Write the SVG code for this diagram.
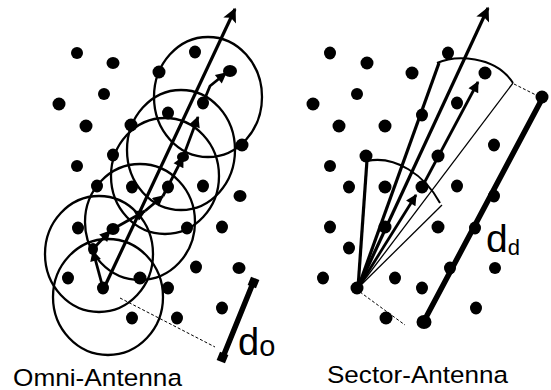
<svg xmlns="http://www.w3.org/2000/svg" width="551" height="390" viewBox="0 0 551 390">
<style>
.dot{fill:#000}
.ring{fill:none;stroke:#000;stroke-width:2.3}
.thick{fill:none;stroke:#000;stroke-width:3.2}
.route{fill:none;stroke:#000;stroke-width:2.8}
.arc{fill:none;stroke:#000;stroke-width:2}
.thin{fill:none;stroke:#000;stroke-width:1.3}
.dash{fill:none;stroke:#000;stroke-width:1;stroke-dasharray:3 2}
.bar{fill:none;stroke:#000;stroke-width:5.5;stroke-linecap:square}
.lbl{font-family:"Liberation Sans",Arial,sans-serif;fill:#000}
</style>
<defs>
<marker id="bigHead" viewBox="0 0 10 10" refX="9" refY="5" markerUnits="userSpaceOnUse" markerWidth="17" markerHeight="14" orient="auto">
<path d="M0,0 L10,5 L0,10 L2,5 z" fill="#000"/>
</marker>
<marker id="smallHead" viewBox="0 0 10 10" refX="9" refY="5" markerUnits="userSpaceOnUse" markerWidth="13" markerHeight="11" orient="auto">
<path d="M0,0 L10,5 L0,10 z" fill="#000"/>
</marker>
</defs>

<g id="omni">
<g id="omni-dots">
<ellipse class="dot" cx="77" cy="53" rx="6" ry="6"/>
<ellipse class="dot" cx="113" cy="63" rx="6.5" ry="6"/>
<ellipse class="dot" cx="104" cy="94" rx="6" ry="6"/>
<ellipse class="dot" cx="59" cy="104" rx="6.5" ry="6.5"/>
<ellipse class="dot" cx="86" cy="126" rx="6.5" ry="6.5"/>
<ellipse class="dot" cx="77" cy="166" rx="6" ry="6"/>
<ellipse class="dot" cx="195" cy="52" rx="6" ry="6.5"/>
<ellipse class="dot" cx="159" cy="72" rx="6.5" ry="6.5"/>
<ellipse class="dot" cx="168" cy="113" rx="6" ry="6.5"/>
<ellipse class="dot" cx="131" cy="125" rx="6.5" ry="6.5"/>
<ellipse class="dot" cx="113" cy="155" rx="6" ry="6.5"/>
<ellipse class="dot" cx="97" cy="186" rx="6" ry="6.5"/>
<ellipse class="dot" cx="132" cy="187" rx="6" ry="6.5"/>
<ellipse class="dot" cx="168" cy="187" rx="6" ry="6.5"/>
<ellipse class="dot" cx="203" cy="186" rx="6" ry="6.5"/>
<ellipse class="dot" cx="240" cy="196" rx="6.5" ry="6"/>
<ellipse class="dot" cx="242" cy="145" rx="6.5" ry="6.5"/>
<ellipse class="dot" cx="203" cy="103" rx="6" ry="6.5"/>
<ellipse class="dot" cx="222" cy="227" rx="6" ry="6.5"/>
<ellipse class="dot" cx="187" cy="228" rx="6" ry="6.5"/>
<ellipse class="dot" cx="78" cy="228" rx="6" ry="6.5"/>
<ellipse class="dot" cx="196" cy="267" rx="6" ry="6.5"/>
<ellipse class="dot" cx="239" cy="268" rx="6.5" ry="6"/>
<ellipse class="dot" cx="68" cy="278" rx="6" ry="6.5"/>
<ellipse class="dot" cx="140" cy="278" rx="6.5" ry="6.5"/>
<ellipse class="dot" cx="168" cy="288" rx="6" ry="6.5"/>
<ellipse class="dot" cx="103" cy="288" rx="6" ry="6.5"/>
<ellipse class="dot" cx="132" cy="318" rx="6" ry="6.5"/>
<ellipse class="dot" cx="177" cy="318" rx="6" ry="6.5"/>
<ellipse class="dot" cx="222" cy="308" rx="6" ry="6.5"/>
<ellipse class="dot" cx="113" cy="229" rx="6.5" ry="6"/>
<ellipse class="dot" cx="93" cy="249" rx="5" ry="6"/>
<ellipse class="dot" cx="183" cy="157" rx="6" ry="5"/>
<ellipse class="dot" cx="230" cy="71" rx="7" ry="6"/>
</g>
<g id="omni-ranges">
<ellipse class="ring" cx="208" cy="97" rx="54" ry="60"/>
<ellipse class="ring" cx="181" cy="150" rx="54" ry="60"/>
<ellipse class="ring" cx="165" cy="176" rx="54" ry="58"/>
<ellipse class="ring" cx="140" cy="222" rx="55" ry="58"/>
<ellipse class="ring" cx="99" cy="254" rx="54" ry="58"/>
<ellipse class="ring" cx="108" cy="297" rx="55" ry="58"/>
</g>
<g id="omni-connectors">
<line class="thick" x1="104" y1="288" x2="235" y2="9" marker-end="url(#bigHead)"/>
<path class="route" d="M103,288 L93,251" marker-end="url(#smallHead)"/>
<path class="route" d="M93,249 L110,231" marker-end="url(#smallHead)"/>
<path class="route" d="M113,229 L145,211" marker-end="url(#smallHead)"/>
<path class="route" d="M145,211 L163,196" marker-end="url(#smallHead)"/>
<path class="route" d="M163,196 L183,157" marker-end="url(#smallHead)"/>
<path class="route" d="M183,157 L198,117" marker-end="url(#smallHead)"/>
<path class="route" d="M203,103 L210,86 L226,73" marker-end="url(#smallHead)"/>
<line class="dash" x1="120" y1="298" x2="215" y2="347"/>
<line class="bar" x1="253" y1="283" x2="223" y2="357"/>
<rect x="249" y="278" width="9" height="9" transform="rotate(22 253.5 282.5)"/>
<rect x="218" y="353" width="9" height="9" transform="rotate(22 222.5 357.5)"/>
</g>
<text class="lbl" x="238" y="355" font-size="38">d<tspan font-size="29" dy="1">o</tspan></text>
<text class="lbl" x="13" y="386" font-size="24.5" textLength="169" lengthAdjust="spacingAndGlyphs">Omni-Antenna</text>
</g>

<g id="sector">
<g id="sector-dots">
<ellipse class="dot" cx="330" cy="53" rx="6" ry="6.5"/>
<ellipse class="dot" cx="367" cy="63" rx="6.5" ry="6.5"/>
<ellipse class="dot" cx="412" cy="73" rx="6.5" ry="6.5"/>
<ellipse class="dot" cx="357" cy="94" rx="6" ry="6"/>
<ellipse class="dot" cx="313" cy="104" rx="6.5" ry="6.5"/>
<ellipse class="dot" cx="339" cy="126" rx="6.5" ry="6.5"/>
<ellipse class="dot" cx="385" cy="126" rx="6.5" ry="6.5"/>
<ellipse class="dot" cx="422" cy="115" rx="6" ry="6.5"/>
<ellipse class="dot" cx="448" cy="53" rx="6" ry="6.5"/>
<ellipse class="dot" cx="485" cy="73" rx="6.5" ry="6.5"/>
<ellipse class="dot" cx="457" cy="103" rx="6" ry="6.5"/>
<ellipse class="dot" cx="494" cy="145" rx="6" ry="6.5"/>
<ellipse class="dot" cx="366" cy="156" rx="6.5" ry="6.5"/>
<ellipse class="dot" cx="330" cy="166" rx="6" ry="6"/>
<ellipse class="dot" cx="349" cy="187" rx="6" ry="6.5"/>
<ellipse class="dot" cx="385" cy="187" rx="6.5" ry="6.5"/>
<ellipse class="dot" cx="422" cy="187" rx="6.5" ry="6.5"/>
<ellipse class="dot" cx="457" cy="186" rx="6" ry="6.5"/>
<ellipse class="dot" cx="438" cy="156" rx="6.5" ry="6.5"/>
<ellipse class="dot" cx="330" cy="227" rx="6" ry="6.5"/>
<ellipse class="dot" cx="349" cy="248" rx="6" ry="6.5"/>
<ellipse class="dot" cx="385" cy="227" rx="6.5" ry="6.5"/>
<ellipse class="dot" cx="438" cy="227" rx="6.5" ry="6.5"/>
<ellipse class="dot" cx="323" cy="278" rx="6" ry="6.5"/>
<ellipse class="dot" cx="395" cy="278" rx="6" ry="6.5"/>
<ellipse class="dot" cx="422" cy="288" rx="6" ry="6.5"/>
<ellipse class="dot" cx="357" cy="288" rx="6.5" ry="6.5"/>
<ellipse class="dot" cx="386" cy="318" rx="6.5" ry="6.5"/>
<ellipse class="dot" cx="424" cy="322" rx="7.5" ry="7"/>
<ellipse class="dot" cx="450" cy="268" rx="6" ry="6.5"/>
<ellipse class="dot" cx="475" cy="228" rx="6" ry="6.5"/>
<ellipse class="dot" cx="494" cy="196" rx="6" ry="6.5"/>
<ellipse class="dot" cx="495" cy="268" rx="6" ry="6"/>
<ellipse class="dot" cx="476" cy="308" rx="6" ry="6.5"/>
<ellipse class="dot" cx="542" cy="97" rx="6.5" ry="6.5"/>
</g>
<g id="sector-beams">
<path class="thick" d="M358,288 L439,63"/>
<path class="arc" d="M437,63 C455,55 495,55 513,83"/>
<path class="thin" d="M513,83 L359,287"/>
<path class="thick" d="M358,288 L367,160"/>
<path class="arc" d="M367,161 C395,155 425,175 440,203"/>
<path class="thin" d="M442,205 L360,286"/>
</g>
<g id="sector-connectors">
<line class="thick" x1="358" y1="288" x2="488" y2="8" marker-end="url(#bigHead)"/>
<path class="route" d="M358,288 L416,195" marker-end="url(#smallHead)"/>
<path class="route" d="M422,187 L478,82" marker-end="url(#smallHead)"/>
<line class="dash" x1="360" y1="292" x2="405" y2="325"/>
<line class="dash" x1="514" y1="84" x2="540" y2="97"/>
<line class="bar" x1="542" y1="99" x2="424" y2="321"/>
</g>
<text class="lbl" x="486" y="252" font-size="39">d<tspan font-size="22" dy="3">d</tspan></text>
<text class="lbl" x="327" y="383" font-size="24.5" textLength="181" lengthAdjust="spacingAndGlyphs">Sector-Antenna</text>
</g>
</svg>
